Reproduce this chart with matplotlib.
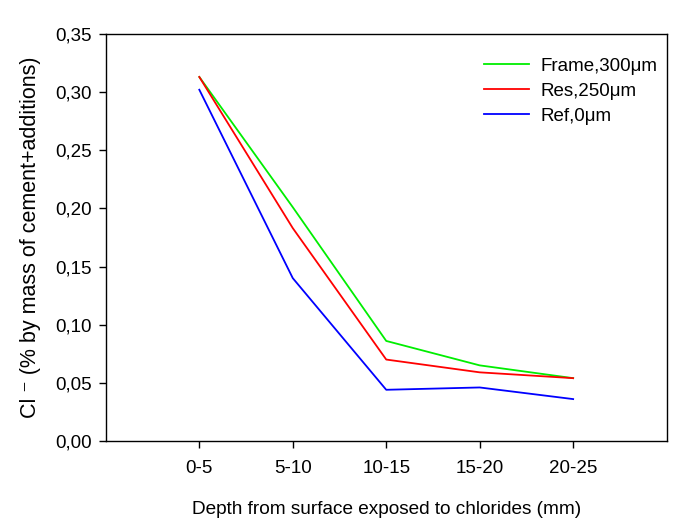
import matplotlib
matplotlib.use("Agg")
import matplotlib.pyplot as plt
from matplotlib.ticker import FuncFormatter, MultipleLocator

plt.rcParams['font.family'] = ['Liberation Sans', 'DejaVu Sans']

categories = ["0-5", "5-10", "10-15", "15-20", "20-25"]
frame_300 = [0.313, 0.201, 0.086, 0.065, 0.054]
res_250 = [0.313, 0.183, 0.070, 0.059, 0.054]
ref_0 = [0.302, 0.140, 0.044, 0.046, 0.036]

fig = plt.figure(figsize=(6.83, 5.30), dpi=100)
ax = fig.add_axes([0.155, 0.168, 0.821, 0.768])
x = list(range(len(categories)))
ax.plot(x, frame_300, color='#00ee00', lw=1.3, label='Frame,300μm')
ax.plot(x, res_250, color='#ff0000', lw=1.3, label='Res,250μm')
ax.plot(x, ref_0, color='#0000ff', lw=1.3, label='Ref,0μm')

ax.set_xlim(-1, 5)
ax.set_ylim(0, 0.35)
ax.set_xticks(x)
ax.set_xticklabels(categories)
ax.yaxis.set_major_locator(MultipleLocator(0.05))
ax.yaxis.set_major_formatter(FuncFormatter(lambda v, p: f"{v:.2f}".replace('.', ',')))
ax.tick_params(direction='out', length=5, width=1, labelsize=13.5, top=False, right=False)
ax.tick_params(axis='x', pad=9)
ax.tick_params(axis='y', pad=5)
for s in ax.spines.values():
    s.set_linewidth(1)
ax.set_xlabel("Depth from surface exposed to chlorides (mm)", fontsize=13.7, labelpad=17)
ax.set_ylabel("Cl \u207b (% by mass of cement+additions)", fontsize=15.5, labelpad=10)
ax.legend(loc='upper right', frameon=False, fontsize=13.5, handlelength=2.4,
          handletextpad=0.6, labelspacing=0.42, borderaxespad=0,
          bbox_to_anchor=(0.997, 0.96))
fig.savefig("out.png", dpi=100)
